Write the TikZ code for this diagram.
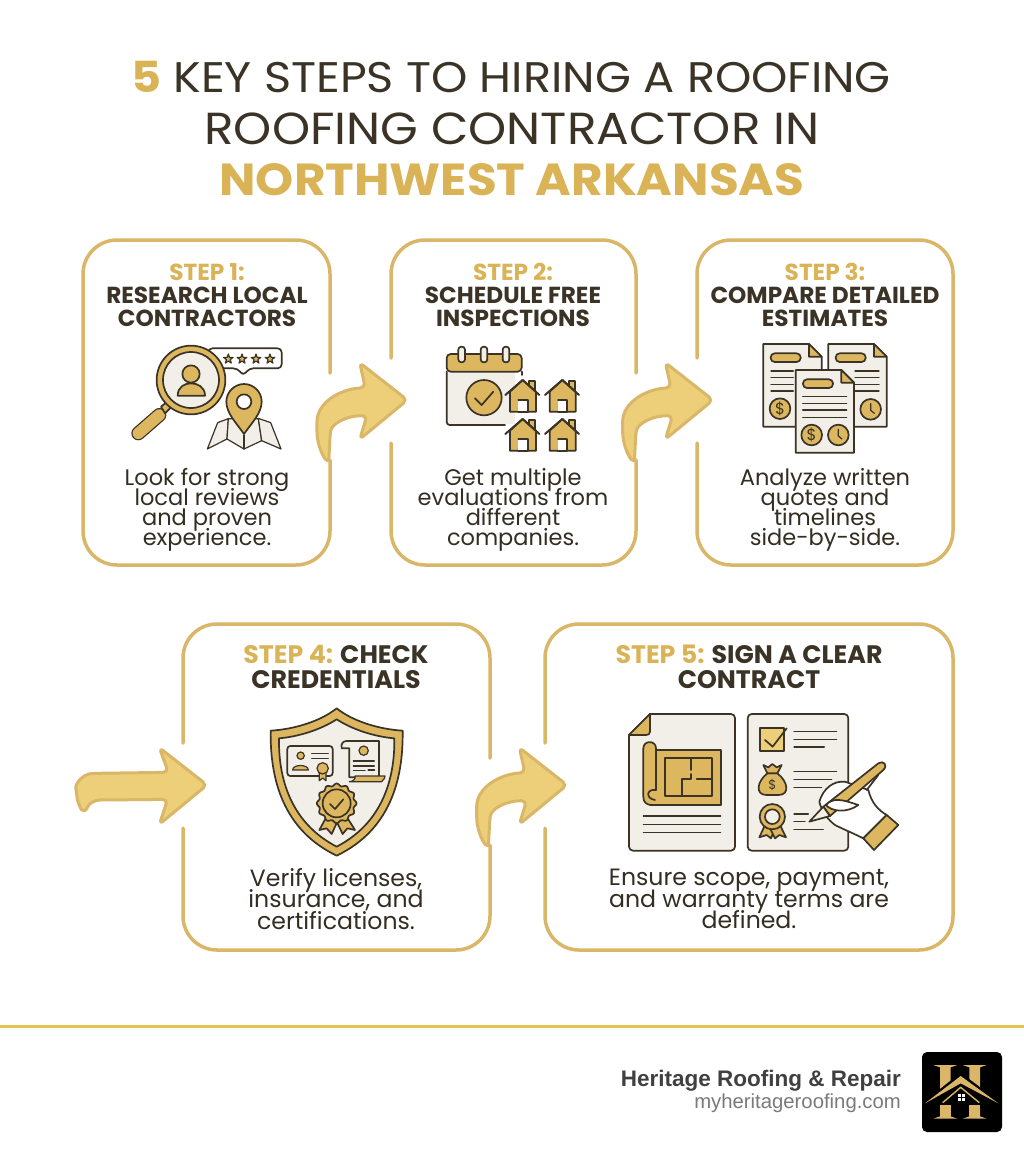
\documentclass[tikz,border=0pt]{standalone}
\usepackage{fontspec}
\newfontfamily\headfont{Poppins}
\newfontfamily\footfont{Liberation Sans}
\usetikzlibrary{positioning}
\normallineskiplimit=-100pt
\lineskiplimit=-100pt
\definecolor{goldline}{HTML}{DAB768}
\definecolor{goldtext}{HTML}{D9B355}
\definecolor{goldink}{HTML}{DDB75F}
\definecolor{arrowfill}{HTML}{ECCF78}
\definecolor{darkink}{HTML}{3A3326}
\definecolor{creampaper}{HTML}{F2EFE8}
\tikzset{
  cardline/.style = {draw=goldline, line width=3.5pt, line cap=round, rounded corners=34pt},
  inkline/.style = {draw=darkink, line width=1.7pt, line cap=round, line join=round},
  inkthin/.style = {draw=darkink, line width=1.2pt, line cap=round, line join=round},
  bigarrow/.style = {draw=goldline, fill=arrowfill, line width=3pt, line join=round, rounded corners=5pt},
  titleline/.style = {inner sep=0pt, anchor=base, font=\headfont\fontsize{44.9}{50}\selectfont},
  stephead/.style = {inner sep=0pt, anchor=north, align=center, text=darkink, font=\headfont\bfseries\fontsize{23.2}{23}\selectfont},
  stepheadwide/.style = {inner sep=0pt, anchor=north, align=center, text=darkink, font=\headfont\bfseries\fontsize{25.3}{25}\selectfont},
  stepbody/.style = {inner sep=0pt, align=center, text=darkink!90!black, font=\headfont\fontsize{22.5}{20}\selectfont},
  stepbodywide/.style = {inner sep=0pt, align=center, text=darkink!90!black, font=\headfont\fontsize{23.6}{21.5}\selectfont},
  ratestar/.pic = {
    \draw [inkthin, fill=goldink] (270:15) -- (306:6) -- (342:15) -- (18:6) -- (54:15) -- (90:6) -- (126:15) -- (162:6) -- (198:15) -- (234:6) -- cycle;
  },
  smallhouse/.pic = {
    \draw [inkline, fill=goldink] (20,3) -- (37,3) -- (37,35) -- (20,35) -- cycle;
    \draw [inkline, fill=goldink] (0,0) -- (-38,35) -- (-38,95) -- (40,95) -- (40,35) -- cycle;
    \draw [inkline, fill=white] (-13,60) -- (15,60) -- (15,95) -- (-13,95);
    \draw [draw=darkink, line width=2pt, line cap=round, line join=round] (-52,45) -- (0,0) -- (50,45);
  },
  docsheet/.pic = {
    \draw [inkline, fill=creampaper] (0,0) -- (137,0) -- (175,38) -- (175,248) -- (0,248) -- cycle;
    \draw [inkline, fill=goldink] (137,0) -- (175,38) -- (137,38) -- cycle;
    \draw [inkline, fill=goldink, rounded corners=4pt] (22,28) rectangle (112,54);
  },
  dollarcoin/.pic = {
    \draw [inkline, fill=goldink] (0,0) circle [radius=31];
    \node (sign) [inner sep=0pt, text=darkink, font=\headfont\fontsize{48}{48}\selectfont] at (0,0) {\$};
  },
  clockcoin/.pic = {
    \draw [inkline, fill=goldink] (0,0) circle [radius=31];
    \draw [inkthin] (0,-17) -- (0,3) -- (11,12);
  },
  bentarrow/.pic = {
    \draw [bigarrow] (6,0) -- (-137,-112) -- (-120,-37) .. controls (-200,-32) and (-265,10) .. (-265,80) .. controls (-265,130) and (-250,165) .. (-230,190) -- (-226,110) .. controls (-222,70) and (-175,47) .. (-115,47) -- (-137,118) -- cycle;
  },
  flatarrow/.pic = {
    \draw [bigarrow] (6,0) -- (-137,-112) -- (-110,-38) -- (-325,-35) .. controls (-365,-33) and (-390,-5) .. (-385,25) .. controls (-382,55) and (-370,75) .. (-357,83) .. controls (-350,55) and (-330,45) .. (-300,45) -- (-112,43) -- (-137,118) -- cycle;
  }
}
\begin{document}
\begin{tikzpicture}[x=1pt, y=-1pt]
\useasboundingbox [fill=white] (0,0) rectangle (1024,1154);

% title
\node (titleone) [titleline, text=darkink, font=\headfont\fontsize{42.8}{50}\selectfont] at (511,92) {\scalebox{1.08}[1]{\textcolor{goldtext}{\bfseries 5} KEY STEPS TO HIRING A ROOFING}};
\node (titletwo) [titleline, text=darkink] at (512,144) {\scalebox{1.08}[1]{ROOFING CONTRACTOR IN}};
\node (titlethree) [titleline, text=goldtext, font=\headfont\bfseries\fontsize{44.9}{50}\selectfont] at (512,195) {\scalebox{1.08}[1]{NORTHWEST ARKANSAS}};

% cards
\draw [cardline] (330,373) -- (330,240) -- (83,240) -- (83,565) -- (330,565) -- (330,460);
\draw [cardline] (391,358) -- (391,240) -- (636,240) -- (636,373);
\draw [cardline] (636,460) -- (636,565) -- (391,565) -- (391,443);
\draw [cardline] (697,358) -- (697,240) -- (953,240) -- (953,565) -- (697,565) -- (697,443);
\draw [cardline] (183,743) -- (183,624) -- (490,624) -- (490,758);
\draw [cardline] (490,845) -- (490,950) -- (183,950) -- (183,828);
\draw [cardline] (545,743) -- (545,624) -- (953,624) -- (953,950) -- (545,950) -- (545,828);

% arrows
\begin{scope}[scale=1/3]
\pic [transform shape] at (1216,1200) {bentarrow};
\pic [transform shape] at (2133,1200) {bentarrow};
\pic [transform shape] at (1695,2355) {bentarrow};
\pic [transform shape] at (615,2355) {flatarrow};
\end{scope}

% card texts
\node (headone) [stephead] at (207,263) {\textcolor{goldtext}{STEP 1:}\\RESEARCH LOCAL\\CONTRACTORS};
\node (headtwo) [stephead] at (513,263) {\textcolor{goldtext}{STEP 2:}\\SCHEDULE FREE\\INSPECTIONS};
\node (headthree) [stephead] at (825,263) {\textcolor{goldtext}{STEP 3:}\\COMPARE DETAILED\\ESTIMATES};
\node (headfour) [stepheadwide] at (336,645) {\textcolor{goldtext}{STEP 4:} CHECK\\CREDENTIALS};
\node (headfive) [stepheadwide] at (749,645) {\textcolor{goldtext}{STEP 5:} SIGN A CLEAR\\CONTRACT};
\node (bodyone) [stepbody] at (207,510) {Look for strong\\local reviews\\and proven\\experience.};
\node (bodytwo) [stepbody] at (513,510) {Get multiple\\evaluations from\\different\\companies.};
\node (bodythree) [stepbody] at (825,510) {Analyze written\\quotes and\\timelines\\side-by-side.};
\node (bodyfour) [stepbodywide] at (336,899) {Verify licenses,\\insurance, and\\certifications.};
\node (bodyfive) [stepbodywide] at (749,899) {Ensure scope, payment,\\and warranty terms are\\defined.};

% research icon
\begin{scope}[shift={(80,230)}, scale=1/3]
\draw [inkline, fill=white, rounded corners=4pt] (385,355) -- (605,355) -- (605,415) -- (508,415) -- (490,437) -- (472,415) -- (385,415) -- cycle;
\foreach \x in {445,486,528,570}
{
\pic [transform shape] at (\x,387) {ratestar};
}
\draw [draw=darkink, line width=14pt, line cap=round] (175,610) -- (238,555);
\draw [draw=goldink, line width=11.5pt, line cap=round] (175,610) -- (238,555);
\draw [inkline, fill=goldink] (243,530) -- (262,515) -- (275,530) -- (255,550) -- cycle;
\draw [inkline, fill=goldink] (333,450) circle [radius=103];
\draw [inkline, fill=creampaper] (333,450) circle [radius=84];
\draw [inkline, fill=goldink] (333,432) circle [radius=26];
\draw [inkline, fill=goldink] (293,497) .. controls (293,470) and (315,460) .. (333,460) .. controls (352,460) and (375,470) .. (375,497) -- cycle;
\draw [inkthin, fill=creampaper] (382,657) -- (413,578) -- (445,566) -- (441,627) -- cycle;
\draw [inkthin, fill=creampaper] (441,627) -- (445,566) -- (535,566) -- (545,632) -- (492,657) -- cycle;
\draw [inkthin, fill=creampaper] (545,632) -- (535,565) -- (572,578) -- (603,657) -- cycle;
\draw [inkthin] (492,615) -- (492,657);
\draw [inkline, fill=goldink] (492,612) .. controls (470,580) and (439,550) .. (439,515) .. controls (439,485) and (465,462) .. (492,462) .. controls (520,462) and (545,485) .. (545,515) .. controls (545,550) and (514,580) .. (492,612) -- cycle;
\draw [inkline, fill=white] (492,515) circle [radius=22];
\end{scope}

% inspection icon
\begin{scope}[shift={(400,330)}, scale=1/3]
\fill [creampaper] (142,125) rectangle (345,283);
\draw [inkline] (365,125) -- (365,135);
\draw [inkline, rounded corners=3pt] (315,285) -- (140,285) -- (140,125);
\draw [inkline, fill=goldink, rounded corners=4pt] (140,125) -- (140,72) -- (365,72) -- (365,125) -- cycle;
\foreach \x in {185,252,318}
{
\draw [inkline, fill=creampaper, rounded corners=3pt] (\x-10,50) rectangle (\x+10,97);
}
\draw [inkline, fill=goldink] (252,203) circle [radius=53];
\draw [inkline] (225,205) -- (245,225) -- (280,185);
\foreach \x in {368,487}
\foreach \y in {150,267}
{
\pic [transform shape] at (\x,\y) {smallhouse};
}
\end{scope}

% estimates icon
\begin{scope}[shift={(400,330)}, scale=1/3]
\pic [transform shape] at (1090,42) {docsheet};
\pic [transform shape] at (1285,42) {docsheet};
\foreach \y in {123,143,163,183}
{
\draw [inkthin] (1113,\y) -- (1180,\y);
\draw [inkthin] (1365,\y) -- (1437,\y);
}
\pic [transform shape] at (1140,236) {dollarcoin};
\pic [transform shape] at (1412,238) {clockcoin};
\pic [transform shape] at (1187,120) {docsheet};
\foreach \y in {200,220,240,262}
{
\draw [inkthin] (1208,\y) -- (1340,\y);
}
\pic [transform shape] at (1235,315) {dollarcoin};
\pic [transform shape] at (1315,315) {clockcoin};
\end{scope}

% credentials icon
\begin{scope}[shift={(60,690)}, scale=1/3]
\draw [inkline, fill=goldink] (830,55) .. controls (880,95) and (960,118) .. (1028,122) .. controls (1030,270) and (990,420) .. (830,497) .. controls (670,420) and (630,270) .. (632,122) .. controls (700,118) and (780,95) .. (830,55) -- cycle;
\draw [inkline, fill=creampaper] (830,88) .. controls (880,120) and (945,140) .. (1003,145) .. controls (1005,270) and (965,400) .. (830,470) .. controls (695,400) and (655,270) .. (657,145) .. controls (715,140) and (780,120) .. (830,88) -- cycle;
\draw [inkline, rounded corners=3pt] (682,168) rectangle (818,258);
\draw [inkthin, fill=goldink] (722,197) circle [radius=11];
\draw [inkthin, fill=goldink] (698,240) .. controls (698,222) and (745,222) .. (745,240) -- cycle;
\draw [inkthin] (755,190) -- (805,190);
\draw [inkthin] (755,205) -- (805,205);
\draw [inkthin, fill=goldink] (778,245) -- (778,272) -- (788,264) -- (798,272) -- (798,245) -- cycle;
\draw [inkthin, fill=goldink] (788,235) circle [radius=17];
\draw [inkline, fill=creampaper] (868,175) -- (845,175) .. controls (842,160) and (850,153) .. (860,153) -- (957,153) -- (957,262) -- (868,262) -- cycle;
\draw [inkthin, fill=goldink] (868,275) -- (965,275) .. controls (972,270) and (975,262) .. (975,258) -- (885,258) .. controls (888,265) and (880,275) .. (868,275) -- cycle;
\draw [inkthin, fill=goldink] (911,182) circle [radius=14];
\foreach \y in {213,228}
{
\draw [inkthin] (880,\y) -- (943,\y);
}
\draw [inkthin] (880,241) -- (915,241);
\draw [inkline] (925,241) -- (943,241);
\draw [inkline, fill=goldink] (797,385) -- (778,420) -- (800,415) -- (815,432) -- (832,395) -- cycle;
\draw [inkline, fill=goldink] (830,395) -- (848,432) -- (862,415) -- (885,420) -- (863,385) -- cycle;
\draw [inkline, fill=goldink, shift={(830,340)}] plot [domain=0:360, samples=121, smooth] (\x:{56+3.5*cos(12*\x)}) -- cycle;
\draw [inkline, fill=goldink] (830,340) circle [radius=42];
\draw [inkline] (810,342) -- (825,357) -- (850,328);
\end{scope}

% contract icon
\begin{scope}[shift={(470,690)}, scale=1/3]
\draw [inkline, fill=creampaper, rounded corners=4pt] (540,72) -- (795,72) -- (795,482) -- (477,482) -- (477,135);
\draw [inkline, fill=creampaper] (477,135) -- (540,72);
\draw [inkline, fill=goldink] (477,135) -- (540,72) -- (540,125) .. controls (540,132) and (535,135) .. (528,135) -- cycle;
\draw [inkline, fill=goldink] (540,180) rectangle (752,345);
\draw [inkline, fill=goldink] (558,300) -- (558,175) .. controls (558,150) and (520,150) .. (520,175) -- (520,320) .. controls (520,338) and (530,345) .. (548,345) -- (600,345);
\draw [inkline] (558,300) .. controls (530,295) and (525,325) .. (555,330);
\draw [inkline] (585,205) rectangle (725,318);
\draw [inkline] (662,205) -- (662,240);
\draw [inkline] (662,252) -- (662,268) -- (635,268) -- (635,318);
\draw [inkline] (680,268) -- (725,268);
\foreach \y in {378,403,428}
{
\draw [inkthin] (520,\y) -- (752,\y);
}
\draw [inkline, fill=creampaper, rounded corners=4pt] (833,72) rectangle (1135,482);
\draw [inkline, fill=arrowfill] (870,113) rectangle (942,182);
\draw [inkline] (885,150) -- (908,170) -- (950,115);
\foreach \y/\e in {125/1100,148/1100,171/1063,245/1100,268/1085,292/1055,372/1015,395/1005,418/1060}
{
\draw [inkthin] (972,\y) -- (\e,\y);
}
\draw [inkline, fill=goldink] (892,250) .. controls (860,275) and (855,315) .. (890,315) -- (925,315) .. controls (960,315) and (955,275) .. (922,250) -- cycle;
\draw [inkline, fill=goldink] (880,225) -- (895,232) -- (907,222) -- (920,232) -- (935,225) -- (922,250) -- (892,250) -- cycle;
\node (bagsign) [inner sep=0pt, text=darkink, font=\headfont\fontsize{13}{13}\selectfont] at (907,285) {\$};
\draw [inkline, fill=goldink] (885,405) -- (868,442) -- (890,435) -- (903,445) -- (915,415) -- cycle;
\draw [inkline, fill=goldink] (900,415) -- (915,445) -- (928,435) -- (948,442) -- (930,405) -- cycle;
\draw [inkline, fill=goldink] (907,380) circle [radius=38];
\draw [inkline, fill=creampaper] (907,380) circle [radius=22];
\draw [inkline, fill=white] (1048,335) .. controls (1060,295) and (1090,272) .. (1125,275) -- (1195,300) .. controls (1205,340) and (1225,360) .. (1250,375) -- (1180,445) .. controls (1150,430) and (1125,420) .. (1095,405) .. controls (1075,390) and (1055,365) .. (1048,335) -- cycle;
\draw [inkline, fill=goldink] (1250,375) -- (1285,405) -- (1212,480) -- (1180,445) -- cycle;
\draw [inkline, fill=goldink] (1060,350) -- (1225,220) .. controls (1240,210) and (1255,225) .. (1240,240) -- (1080,378) -- cycle;
\draw [inkline, fill=creampaper] (1060,350) -- (1018,395) -- (1080,378) -- cycle;
\draw [inkline, fill=white] (1068,345) .. controls (1090,320) and (1120,330) .. (1165,345) .. controls (1130,370) and (1085,365) .. (1068,345) -- cycle;
\draw [inkline] (1190,300) -- (1225,255);
\end{scope}

% footer
\draw [draw=goldline!80!yellow, line width=3pt] (0,1026) -- (1024,1026);
\node (companyname) [inner sep=0pt, anchor=base east, text=black!75, font=\footfont\bfseries\fontsize{22.5}{23}\selectfont] at (901,1086) {Heritage Roofing \& Repair};
\node (companysite) [inner sep=0pt, anchor=base east, text=black!52, font=\footfont\fontsize{20.3}{20}\selectfont] at (901,1108) {myheritageroofing.com};
\begin{scope}[shift={(920,1050)}, scale=1/3]
\fill [black, rounded corners=5pt] (6,6) rectangle (246,246);
\foreach \x in {0,88}
{
\fill [goldline] (\x+40,45) -- (\x+112,45) -- (\x+92,52) -- (\x+92,199) -- (\x+112,206) -- (\x+40,206) -- (\x+60,199) -- (\x+60,52) -- cycle;
}
\fill [black] (122,68) -- (8,158) -- (60,175) -- (190,175) -- (242,158) -- cycle;
\fill [goldline] (15,160) -- (122,78) -- (235,160) -- (122,100) -- cycle;
\draw [draw=goldline, line width=1.4pt] (68,158) -- (122,112) -- (178,158);
\fill [goldline] (60,165) rectangle (92,199);
\fill [goldline] (148,165) rectangle (180,199);
\foreach \x in {115,127}
\foreach \y in {133,145}
{
\fill [white] (\x,\y) rectangle (\x+9,\y+9);
}
\end{scope}
\end{tikzpicture}
\end{document}
